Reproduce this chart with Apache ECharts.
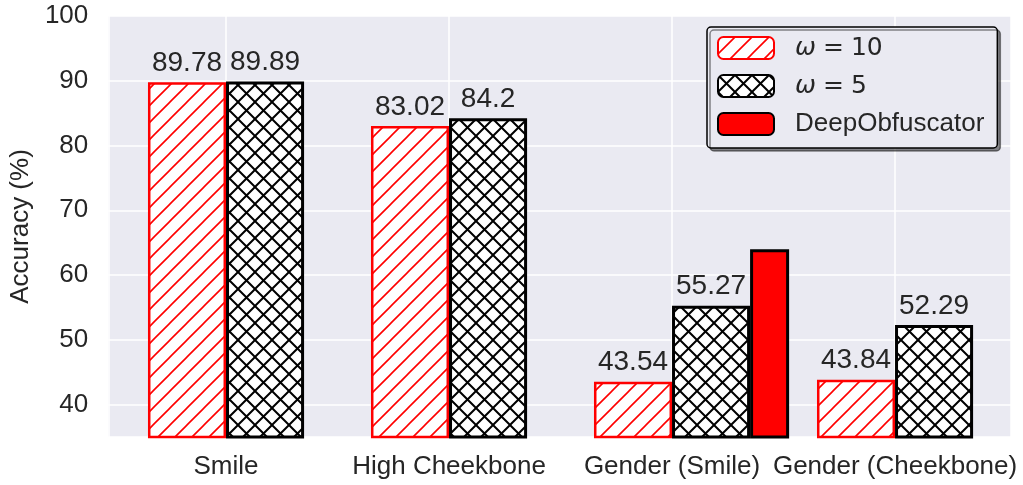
<!DOCTYPE html>
<html>
<head>
<meta charset="utf-8">
<script src="https://cdn.jsdelivr.net/npm/echarts@6/dist/echarts.min.js"></script>
<style>
  html, body { margin: 0; padding: 0; background: #fff; }
  #main { width: 1023px; height: 485px; }
</style>
</head>
<body>
<div id="main"></div>
<script>
// data
const categories = ['Smile', 'High Cheekbone', 'Gender (Smile)', 'Gender (Cheekbone)'];
const omega10 = [89.78, 83.02, 43.54, 43.84];
const omega5 = [89.89, 84.2, 55.27, 52.29];
const deepObf = [null, null, 64.0, null];
const yTicks = [40, 50, 60, 70, 80, 90, 100];

// hatch tiles, like matplotlib '///' and 'xx'
function makeHatch(color, width, cross) {
  const s = 17;
  const c = document.createElement('canvas');
  c.width = s; c.height = s;
  const g = c.getContext('2d');
  g.fillStyle = '#fff';
  g.fillRect(0, 0, s, s);
  g.strokeStyle = color;
  g.lineWidth = width;
  g.beginPath();
  g.moveTo(-2, s + 2); g.lineTo(s + 2, -2);
  g.moveTo(-2, 2); g.lineTo(2, -2);
  g.moveTo(s - 2, s + 2); g.lineTo(s + 2, s - 2);
  if (cross) {
    g.moveTo(-2, -2); g.lineTo(s + 2, s + 2);
    g.moveTo(-2, s - 2); g.lineTo(2, s + 2);
    g.moveTo(s - 2, -2); g.lineTo(s + 2, 2);
  }
  g.stroke();
  return { image: c, repeat: 'repeat' };
}

const txt = '#262626';
const font = '"Liberation Sans", Arial, sans-serif';
const toXY = arr => arr.map((v, i) => [i, v]);

const chart = echarts.init(document.getElementById('main'));
chart.setOption({
  animation: false,
  textStyle: { fontFamily: font, color: txt },
  grid: {
    left: 107, right: 12, top: 16, bottom: 48,
    show: true, backgroundColor: '#EAEAF2', borderWidth: 0
  },
  legend: {
    data: ['ω = 10', 'ω = 5', 'DeepObfuscator'],
    orient: 'vertical',
    left: 707, top: 27,
    padding: [8, 13, 11, 10],
    itemWidth: 56, itemHeight: 22, itemGap: 12,
    backgroundColor: '#EAEAF2',
    borderColor: '#000', borderWidth: 1.5, borderRadius: 4,
    shadowColor: 'rgba(0,0,0,0.45)', shadowOffsetX: 3, shadowOffsetY: 3, shadowBlur: 0,
    formatter: name => name.startsWith('ω') ? '{m|ω}{e|=}{d|' + name.split('= ')[1] + '}' : name,
    textStyle: {
      fontSize: 26, lineHeight: 26, color: txt, fontFamily: font,
      padding: [0, 0, 0, 16],
      rich: {
        m: { fontSize: 25, fontStyle: 'italic', fontFamily: '"DejaVu Sans"', color: txt },
        e: { fontSize: 25, fontFamily: '"DejaVu Sans"', color: txt, padding: [0, 7, 0, 7] },
        d: { fontSize: 25, fontFamily: '"DejaVu Sans"', color: txt }
      }
    }
  },
  xAxis: {
    type: 'value',
    min: -0.528, max: 3.52,
    splitNumber: 4,
    axisLine: { show: false },
    axisTick: { show: false },
    axisLabel: {
      fontSize: 26, color: txt, margin: 17,
      showMinLabel: false, showMaxLabel: false,
      formatter: v => (Number.isInteger(v) && categories[v]) ? categories[v] : ''
    },
    splitLine: { show: true, lineStyle: { color: '#fff', width: 1.5 } }
  },
  yAxis: {
    type: 'value',
    min: 35, max: 100,
    splitNumber: 7,
    name: 'Accuracy (%)',
    nameLocation: 'middle',
    nameGap: 72,
    nameRotate: 90,
    nameTextStyle: { fontSize: 26, color: txt, fontFamily: font },
    axisLine: { show: false },
    axisTick: { show: false },
    axisLabel: {
      fontSize: 26, color: txt, margin: 20,
      formatter: v => yTicks.includes(v) ? String(v) : ''
    },
    splitLine: { show: true, lineStyle: { color: '#fff', width: 1.5 } }
  },
  series: [
    {
      // empty slot so the groups sit like the original
      name: 'pad', type: 'bar', barWidth: '17.5%', barGap: 0,
      data: toXY([null, null, null, null])
    },
    {
      name: 'ω = 10', type: 'bar', barWidth: '35%', barGap: 0,
      data: toXY(omega10),
      itemStyle: { color: makeHatch('#ff0000', 1.6, false), borderColor: '#ff0000', borderWidth: 2.5 },
      label: { show: true, position: 'top', distance: 5, fontSize: 28, color: txt, fontFamily: font }
    },
    {
      name: 'ω = 5', type: 'bar', barWidth: '35%', barGap: 0,
      data: toXY(omega5),
      itemStyle: { color: makeHatch('#000', 2, true), borderColor: '#000', borderWidth: 3 },
      label: { show: true, position: 'top', distance: 5, fontSize: 28, color: txt, fontFamily: font }
    },
    {
      name: 'DeepObfuscator', type: 'bar', barWidth: '17.5%', barGap: 0,
      data: toXY(deepObf),
      itemStyle: { color: '#ff0000', borderColor: '#000', borderWidth: 3 }
    }
  ]
});
</script>
</body>
</html>
